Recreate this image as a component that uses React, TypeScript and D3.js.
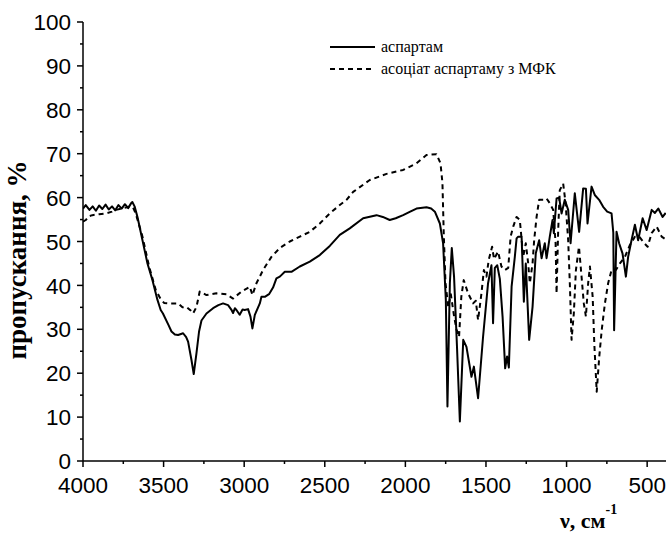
import React from "react";
import * as d3 from "d3";

const aspWave = [4000,3983,3960,3940,3920,3900,3880,3860,3840,3820,3800,3780,3760,3740,3720,3700,3694,3680,3662,3631,3600,3569,3538,3518,3504,3470,3451,3430,3410,3379,3360,3348,3327,3313,3296,3280,3265,3234,3193,3160,3131,3100,3080,3069,3058,3048,3028,3010,2997,2976,2961,2949,2934,2903,2893,2872,2846,2821,2800,2779,2748,2707,2655,2593,2531,2469,2407,2345,2262,2179,2140,2097,2060,2014,1970,1931,1869,1840,1817,1786,1766,1749,1739,1724,1712,1698,1679,1662,1641,1621,1590,1575,1549,1518,1487,1466,1456,1445,1430,1414,1397,1381,1369,1358,1341,1321,1310,1300,1279,1265,1253,1232,1211,1191,1170,1155,1135,1124,1104,1087,1079,1062,1046,1031,1011,990,975,949,922,897,880,870,845,825,798,773,748,721,710,705,690,674,653,632,618,597,576,556,528,503,472,452,431,404,385];
const aspT = [57.5,58.3,57.2,58.0,57.0,58.2,57.4,58.4,57.3,58.0,57.1,58.3,57.5,58.5,57.6,58.8,59.0,58.0,55.6,50.3,45.0,41.2,36.7,34.4,33.6,31.0,29.5,28.8,28.7,29.1,28.2,27.2,23.0,19.8,24.6,29.5,32.0,33.6,34.8,35.5,35.9,35.5,34.5,33.7,34.8,34.4,33.3,34.5,34.4,34.6,32.9,30.2,33.3,35.9,37.4,37.4,38.0,39.5,41.6,42.0,43.1,43.1,44.3,45.4,46.9,49.0,51.5,53.0,55.3,56.0,55.6,54.9,55.3,56.0,56.8,57.5,57.8,57.5,56.8,54.1,49.6,36.7,12.4,40.5,48.5,42.0,25.3,9.0,27.6,26.0,19.2,21.5,14.3,28.3,40.5,44.6,31.4,44.0,44.6,41.5,32.9,21.1,23.8,21.3,39.7,46.5,50.7,51.1,51.1,36.3,45.0,27.6,35.1,47.3,50.3,46.2,49.6,46.2,51.1,54.9,51.9,59.8,60.0,56.4,59.5,57.2,49.6,61.0,52.2,62.1,62.0,54.1,62.5,60.6,59.5,57.9,56.8,56.4,52.0,29.8,52.2,49.6,47.3,42.0,46.5,50.3,53.8,50.3,55.3,52.6,57.2,56.5,57.5,55.6,56.5];

const assocWave = [4000,3983,3960,3942,3900,3859,3820,3797,3760,3714,3690,3673,3631,3590,3549,3520,3497,3462,3445,3410,3383,3358,3330,3317,3296,3276,3234,3172,3110,3069,3017,2965,2949,2924,2903,2883,2831,2779,2717,2655,2593,2531,2469,2407,2365,2324,2221,2117,2014,1931,1869,1807,1782,1770,1762,1751,1734,1718,1698,1683,1667,1653,1638,1611,1580,1563,1549,1528,1513,1497,1483,1462,1450,1425,1404,1383,1362,1347,1331,1310,1290,1269,1253,1238,1228,1211,1201,1186,1170,1145,1124,1104,1083,1068,1062,1052,1042,1021,1006,990,979,969,955,942,923,907,893,880,866,855,838,828,813,797,782,762,742,721,694,669,638,607,576,549,518,497,472,441,410,385];
const assocT = [54.5,54.9,55.8,56.0,56.2,56.4,56.8,57.2,57.5,57.9,57.8,56.4,51.1,44.3,39.0,37.0,36.0,35.9,35.9,35.9,35.0,35.1,34.2,33.6,35.1,38.6,37.8,38.2,38.0,37.0,38.6,39.7,37.8,40.5,42.0,43.5,46.5,48.5,50.0,51.1,52.2,54.1,56.4,58.3,59.5,61.3,64.0,65.4,66.3,67.8,69.7,69.9,67.8,63.3,51.9,40.5,35.1,38.0,33.0,30.0,28.3,37.4,41.2,38.2,35.9,36.5,32.1,38.2,43.5,42.0,45.8,48.8,46.0,47.7,44.3,43.5,44.0,51.1,53.4,55.6,54.9,46.5,49.6,45.0,40.5,45.0,50.3,55.6,59.5,59.5,59.8,58.7,57.2,49.6,38.2,52.6,61.7,63.2,58.7,50.3,39.7,27.6,33.6,43.5,48.8,42.0,35.9,32.9,40.5,44.3,37.4,26.8,15.8,23.8,29.8,35.9,40.5,43.5,43.5,45.0,46.5,49.2,51.1,51.1,49.6,48.8,51.9,53.4,51.1,50.5];

const xMajorTicks = [4000, 3500, 3000, 2500, 2000, 1500, 1000, 500];
const xMinorTicks = [3750, 3250, 2750, 2250, 1750, 1250, 750];
const yMajorTicks = [0, 10, 20, 30, 40, 50, 60, 70, 80, 90, 100];
const yMinorTicks = [5, 15, 25, 35, 45, 55, 65, 75, 85, 95];

const seriesNames = ["аспартам", "асоціат аспартаму з МФК"];
const yTitle = "пропускання, %";

export default function App() {
  const W = 666, H = 535;
  const x = d3.scaleLinear().domain([4000, 380]).range([83, 666.5]);
  const y = d3.scaleLinear().domain([0, 100]).range([461, 22]);
  const line = d3.line<[number, number]>().x(d => x(d[0])).y(d => y(d[1]));
  const aspData = aspWave.map((w, i) => [w, aspT[i]] as [number, number]);
  const assocData = assocWave.map((w, i) => [w, assocT[i]] as [number, number]);
  const sans = "'Liberation Sans', Arial, sans-serif";
  const serif = "'Liberation Serif', 'Times New Roman', serif";
  const x0 = x(4000), y0 = y(0);
  return (
    <div style={{ position: "absolute", left: 0, top: 0 }}>
      <svg width={W} height={H} style={{ display: "block", background: "#fff" }}>
        <defs>
          <clipPath id="plotclip">
            <rect x={x0} y={0} width={W - x0} height={y0 + 1} />
          </clipPath>
        </defs>
        <g clipPath="url(#plotclip)" fill="none" stroke="#000" strokeLinejoin="round">
          <path d={line(assocData) || ""} strokeWidth={2} strokeDasharray="5,4" />
          <path d={line(aspData) || ""} strokeWidth={2} />
        </g>
        {/* axes */}
        <line x1={x0} x2={x0} y1={y(100)} y2={y0} stroke="#000" strokeWidth={1.5} />
        <line x1={x0} x2={W} y1={y0} y2={y0} stroke="#000" strokeWidth={1.5} />
        {yMajorTicks.map(t => (
          <g key={"ym" + t}>
            <line x1={x0 - 6} x2={x0} y1={y(t)} y2={y(t)} stroke="#000" strokeWidth={1.5} />
            <text x={x0 - 12} y={y(t)} dy="0.36em" textAnchor="end" fontFamily={sans} fontSize={22.5} fill="#000">{t}</text>
          </g>
        ))}
        {yMinorTicks.map(t => (
          <line key={"yn" + t} x1={x0 - 3} x2={x0} y1={y(t)} y2={y(t)} stroke="#000" strokeWidth={1.5} />
        ))}
        {xMajorTicks.map(t => (
          <g key={"xm" + t}>
            <line x1={x(t)} x2={x(t)} y1={y0} y2={y0 + 6} stroke="#000" strokeWidth={1.5} />
            <text x={x(t)} y={493} textAnchor="middle" fontFamily={sans} fontSize={22.5} fill="#000">{t}</text>
          </g>
        ))}
        {xMinorTicks.map(t => (
          <line key={"xn" + t} x1={x(t)} x2={x(t)} y1={y0} y2={y0 + 3} stroke="#000" strokeWidth={1.5} />
        ))}
        {/* axis titles */}
        <text transform="translate(26,260) rotate(-90)" textAnchor="middle" fontFamily={serif} fontWeight="bold" fontSize={27} fill="#000">{yTitle}</text>
        <text x={560} y={528} fontFamily={serif} fontWeight="bold" fontSize={22} fill="#000">
          ν, см<tspan dy={-14} fontSize={14}>-1</tspan>
        </text>
        {/* legend */}
        <line x1={330} x2={375} y1={47} y2={47} stroke="#000" strokeWidth={2} />
        <text x={381} y={47} dy="0.33em" fontFamily={serif} fontSize={16} fill="#000">{seriesNames[0]}</text>
        <line x1={330} x2={375} y1={69} y2={69} stroke="#000" strokeWidth={2} strokeDasharray="5,4" />
        <text x={381} y={69} dy="0.33em" fontFamily={serif} fontSize={16} fill="#000">{seriesNames[1]}</text>
      </svg>
    </div>
  );
}
